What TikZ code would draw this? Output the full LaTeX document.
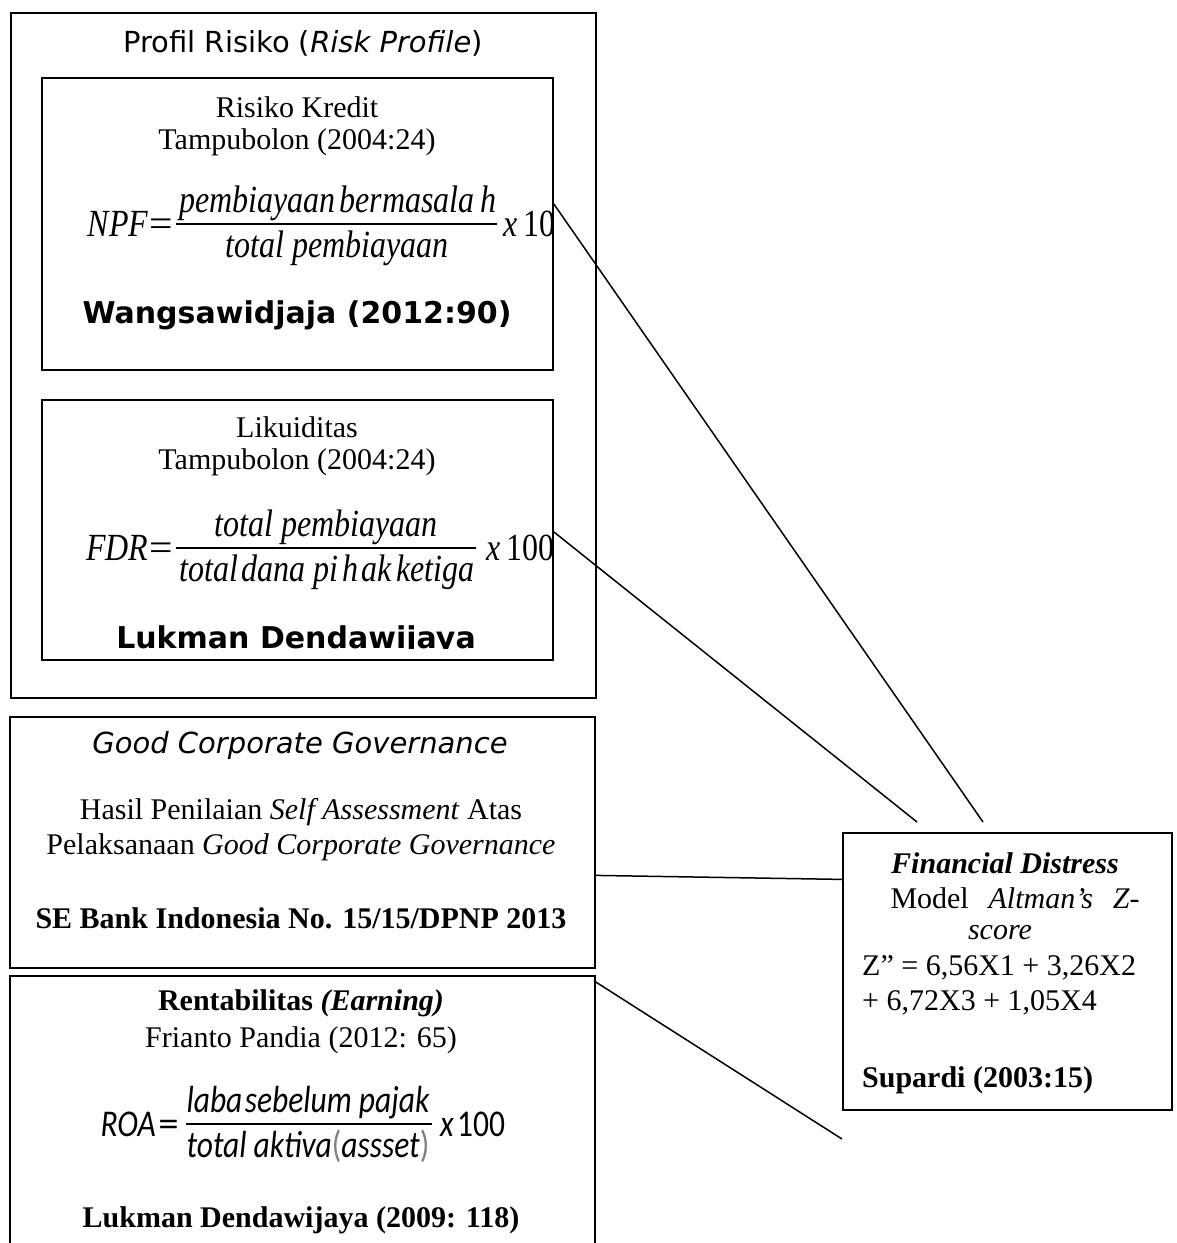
\documentclass[tikz,border=0pt]{standalone}
\usepackage{graphicx}
\usepackage{fontspec}
\setmainfont{Liberation Serif}
\newfontfamily\dejavu{DejaVu Sans}
\newfontfamily\carlito{Carlito}
\newcommand{\vst}[1]{\scalebox{1}[1.2]{#1}}
\newcommand{\eqs}{\scalebox{1.3}[1]{\textup{=}}}
\begin{document}
\begin{tikzpicture}[x=1pt,y=-1pt]
\tikzset{
  box/.style={draw, line width=1.8pt, inner sep=0pt, anchor=north west, fill=none},
  tm/.style={inner sep=0pt, font=\fontsize{30}{34}\selectfont},
  tmb/.style={inner sep=0pt, font=\fontsize{30}{34}\selectfont\bfseries},
  dv/.style={inner sep=0pt, font=\dejavu\fontsize{29}{34}\selectfont},
  dvb/.style={inner sep=0pt, font=\dejavu\fontsize{30}{34}\selectfont\bfseries},
  fm/.style={inner sep=0pt, font=\fontsize{32}{36}\selectfont\itshape},
  fc/.style={inner sep=0pt, font=\carlito\fontsize{31.5}{36}\selectfont\itshape},
  bar/.style={line width=1.6pt},
  conn/.style={line width=1.5pt},
}
\useasboundingbox (0,0) rectangle (1177,1243);
\clip (0,0) rectangle (1177,1243);
\fill[white] (0,0) rectangle (1177,1243);

% boxes
\node[box, minimum width=585pt, minimum height=685pt] (outer) at (10,12) {};
\node[box, minimum width=511pt, minimum height=292pt] (rk) at (41,77) {};
\node[box, minimum width=511pt, minimum height=260pt] (lq) at (41,399) {};
\node[box, minimum width=585pt, minimum height=251pt] (gcg) at (9,716) {};
\node[box, minimum width=585pt, minimum height=320pt] (rent) at (9,975) {};
\node[box, minimum width=329pt, minimum height=277pt] (fd) at (842,832) {};

% outer title
\node[dv] (title) at (303,43) {Profil Risiko (\textit{Risk Profile})};

% Risiko Kredit
\node[tm] (rk1) at (297,107) {Risiko Kredit};
\node[tm] (rk2) at (297,142) {Tampubolon (2004:24)};
\node[fm, anchor=base east] (npfl) at (173,236) {\vst{NPF\kern1pt\eqs}};
\node[fm, anchor=base] (npfn) at (338,212) {\vst{pembiayaan\hspace{0.12em}bermasala\hspace{0.2em}h}};
\draw[bar] (176,224) coordinate (npfb1) -- (497,224) coordinate (npfb2);
\node[fm, anchor=base] (npfd) at (337,257) {\vst{total pembiayaan}};
\node[fm, anchor=base west] (npfr) at (503,236) {\vst{x\hspace{0.2em}\textup{10}}};
\node[dvb] (rk3) at (297,315) {Wangsawidjaja (2012:90)};

% Likuiditas
\node[tm] (lq1) at (297,427) {Likuiditas};
\node[tm] (lq2) at (297,462) {Tampubolon (2004:24)};
\node[fm, anchor=base east] (fdrl) at (173,560) {\vst{FDR\kern1pt\eqs}};
\node[fm, anchor=base] (fdrn) at (326,536) {\vst{total pembiayaan}};
\draw[bar] (176,548) coordinate (fdrb1) -- (476,548) coordinate (fdrb2);
\node[fm, anchor=base] (fdrd) at (327,581) {\vst{total\hspace{0.1em}dana pi\hspace{0.15em}h\hspace{0.08em}ak\hspace{0.15em}ketiga}};
\node[fm, anchor=base west] (fdrr) at (486,560) {\vst{x\hspace{0.2em}\textup{100}}};
\begin{scope}
  \clip (41,399) rectangle (552,648);
  \node[dvb, anchor=base] (lq3) at (296,648) {Lukman Dendawijaya};
\end{scope}

% GCG
\node[dv] (g1) at (300,745) {\itshape Good Corporate Governance};
\node[tm] (g2) at (301,812) {Hasil Penilaian \textit{Self Assessment} Atas};
\node[tm] (g3) at (301,847) {Pelaksanaan \textit{Good Corporate Governance}};
\node[tmb] (g4) at (301,918) {SE Bank Indonesia No. 15/15/DPNP 2013};

% Rentabilitas
\node[tmb] (r1) at (301,1003) {Rentabilitas \textit{(Earning)}};
\node[tm] (r2) at (301,1040) {Frianto Pandia (2012: 65)};
\node[fc, anchor=base east] (roal) at (179,1136) {\vst{ROA\hspace{0.08em}\eqs}};
\node[fc, anchor=base] (roan) at (308,1112) {\vst{laba\hspace{0.08em}sebelum pajak}};
\draw[bar] (186,1124) coordinate (roab1) -- (432,1124) coordinate (roab2);
\node[fc, anchor=base] (road) at (308,1157) {\vst{total aktiva\textcolor{gray}{\textup{(}}assset\textcolor{gray}{\textup{)}}}};
\node[fc, anchor=base west] (roar) at (440,1136) {\vst{x\hspace{0.1em}\textup{100}}};
\node[tmb] (r3) at (301,1220) {Lukman Dendawijaya (2009: 118)};

% Financial Distress
\node[tmb] (f1) at (1005,863) {\itshape Financial Distress};
\node[tm] (f2) at (1015,898) {\makebox[249pt][s]{Model \textit{Altman’s} \textit{Z-}}};
\node[tm] (f3) at (1000,933) {\itshape score};
\node[tm, anchor=west] (f4) at (862,968) {Z” = 6,56X1 + 3,26X2};
\node[tm, anchor=west] (f5) at (862,1003) {+ 6,72X3 + 1,05X4};
\node[tmb, anchor=west] (f6) at (862,1080) {Supardi (2003:15)};

% connectors
\coordinate (e1) at (983,822);
\coordinate (e2) at (917,822);
\coordinate (e4) at (842,1139);
\draw[conn] ([yshift=20pt]rk.east) -- (e1);
\draw[conn] ([yshift=-2pt]lq.east) -- (e2);
\draw[conn] ([yshift=-33pt]gcg.east) -- ([yshift=92pt]fd.west);
\draw[conn] ([yshift=-7pt]rent.north east) -- (e4);
\end{tikzpicture}
\end{document}
